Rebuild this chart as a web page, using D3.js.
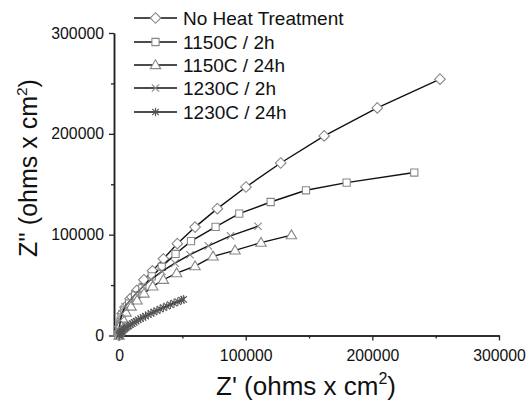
<!DOCTYPE html>
<html><head><meta charset="utf-8">
<script src="https://cdn.jsdelivr.net/npm/d3@7"></script>
<style>body{margin:0;background:#fff}svg{display:block}text{font-family:"Liberation Sans",Arial,sans-serif}</style>
</head><body><svg id="c" width="530" height="405"></svg>
<script>
const seriesNames = ["No Heat Treatment","1150C / 2h","1150C / 24h","1230C / 2h","1230C / 24h"];
const seriesSymbols = ["diamond","square","triangle","cross","star"];
const noHeat = [[0,0],[200,4000],[500,8900],[1200,14900],[2400,21800],[4700,28100],[8700,36400],[14000,44700],[19600,55300],[26400,64100],[35000,76000],[46000,91100],[60000,107500],[77600,125800],[100200,147300],[127600,171100],[162000,197900],[203900,225700],[253400,254200]];
const h1150_2 = [[0,0],[200,5000],[800,10900],[2000,17900],[4300,24800],[7900,31800],[12600,39700],[18400,47400],[25800,58600],[33700,68200],[44600,80900],[56800,93600],[76200,107700],[94900,120900],[119700,132400],[147600,144000],[179700,151600],[233100,161600]];
const h1150_24 = [[0,0],[400,5000],[1200,10900],[2800,16900],[5500,22800],[9500,28800],[14200,34800],[19700,41700],[26600,48700],[35000,55300],[45500,61900],[60000,68800],[74200,78500],[91600,84400],[112100,92100],[136100,99600]];
const h1230_2 = [[0,0],[150,3000],[400,7900],[1000,14900],[2400,21800],[4700,28800],[8700,34800],[13400,41700],[18900,48700],[25300,55600],[33900,63600],[44200,71800],[56000,80100],[70500,88900],[88000,98800],[109700,108400]];
const h1230_24 = [[0,0],[200,740],[500,1410],[900,2130],[1400,2900],[2000,3720],[2700,4590],[3500,5510],[4400,6470],[5400,7460],[6500,8500],[7700,9570],[9000,10670],[10400,11810],[11900,12980],[13500,14170],[15200,15390],[17000,16660],[18900,17930],[20900,19230],[23000,20570],[25200,21930],[27500,23320],[29900,24720],[32400,26200],[35000,27590],[37700,29080],[40500,30580],[43400,32100],[46400,33640],[49400,35150],[51000,35900]];
const seriesData = [noHeat,h1150_2,h1150_24,h1230_2,h1230_24];
const xMajorTicks = [0,100000,200000,300000];
const xMinorTicks = [50000,150000,250000];
const yMajorTicks = [0,100000,200000,300000];
const yMinorTicks = [50000,150000,250000];

const svg = d3.select("#c");
const x = d3.scaleLinear().domain([-4000,300000]).range([114,499]);
const y = d3.scaleLinear().domain([0,300000]).range([335.5,33]);

function symPath(type, s){
  switch(type){
    case "diamond": return `M0,${-s}L${s},0L0,${s}L${-s},0Z`;
    case "square": {const a=s*0.72; return `M${-a},${-a}H${a}V${a}H${-a}Z`;}
    case "triangle": return `M0,${-s}L${s},${s*0.7}L${-s},${s*0.7}Z`;
    case "cross": {const a=s*0.8; return `M${-a},${-a}L${a},${a}M${-a},${a}L${a},${-a}`;}
    case "star": {const a=s*0.75; return `M${-a},${-a}L${a},${a}M${-a},${a}L${a},${-a}M0,${-s}V${s}`;}
  }
}
const symSize = [5.3,5,5.2,4.6,4.3];

// axes
const gx = svg.append("g").attr("transform","translate(0,335.5)");
gx.call(d3.axisBottom(x).tickValues(xMajorTicks).tickSize(5).tickFormat(d3.format("d")).tickSizeOuter(0));
const gxm = svg.append("g").attr("transform","translate(0,335.5)");
gxm.call(d3.axisBottom(x).tickValues(xMinorTicks).tickSize(3).tickFormat("").tickSizeOuter(0));
const gy = svg.append("g").attr("transform","translate(114,0)");
gy.call(d3.axisLeft(y).tickValues(yMajorTicks).tickSize(5).tickFormat(d3.format("d")).tickSizeOuter(0));
const gym = svg.append("g").attr("transform","translate(114,0)");
gym.call(d3.axisLeft(y).tickValues(yMinorTicks).tickSize(3).tickFormat("").tickSizeOuter(0));
svg.selectAll(".domain").attr("stroke","#222").attr("stroke-width",1.5);
svg.selectAll(".tick line").attr("stroke","#222").attr("stroke-width",1.3);
svg.selectAll(".tick text").attr("font-size",15.8).attr("fill","#111").style("font-family","Liberation Sans, Arial, sans-serif");
gx.selectAll(".tick text").attr("dy","1.1em");
gy.selectAll(".tick text").attr("dx","-2");

// series
const line = d3.line().x(d=>x(d[0])).y(d=>y(d[1]));
seriesData.forEach((data,i)=>{
  const g = svg.append("g");
  g.append("path").attr("d",line(data)).attr("fill","none").attr("stroke","#111").attr("stroke-width",1.4);
  g.selectAll("path.m").data(data).join("path").attr("class","m")
   .attr("transform",d=>`translate(${x(d[0])},${y(d[1])})`)
   .attr("d",symPath(seriesSymbols[i],symSize[i]))
   .attr("fill",i<3?"#fff":"none").attr("stroke",i==4?"#555":"#888").attr("stroke-width",1.1);
});

// legend
const legY = [18,42,65,88,112];
seriesNames.forEach((n,i)=>{
  const g = svg.append("g").attr("transform",`translate(0,${legY[i]})`);
  g.append("line").attr("x1",134).attr("x2",177).attr("y1",0).attr("y2",0).attr("stroke","#111").attr("stroke-width",1.4);
  g.append("path").attr("transform","translate(155.5,0)").attr("d",symPath(seriesSymbols[i],symSize[i]))
   .attr("fill",i<3?"#fff":"none").attr("stroke",i==4?"#555":"#888").attr("stroke-width",1.1);
  g.append("text").attr("x",183).attr("y",6.5).attr("font-size",19).attr("fill","#111").text(n);
});

// axis titles
const xt = svg.append("text").attr("x",306).attr("y",395).attr("text-anchor","middle").attr("font-size",26).attr("fill","#111");
xt.append("tspan").text("Z' (ohms x cm");
xt.append("tspan").attr("font-size",16).attr("dy",-11).text("2");
xt.append("tspan").attr("dy",11).text(")");
const yt = svg.append("text").attr("transform","translate(37,168) rotate(-90)").attr("text-anchor","middle").attr("font-size",25).attr("fill","#111");
yt.append("tspan").text("Z'' (ohms x cm");
yt.append("tspan").attr("font-size",15.5).attr("dy",-10.5).text("2");
yt.append("tspan").attr("dy",10.5).text(")");
</script></body></html>
